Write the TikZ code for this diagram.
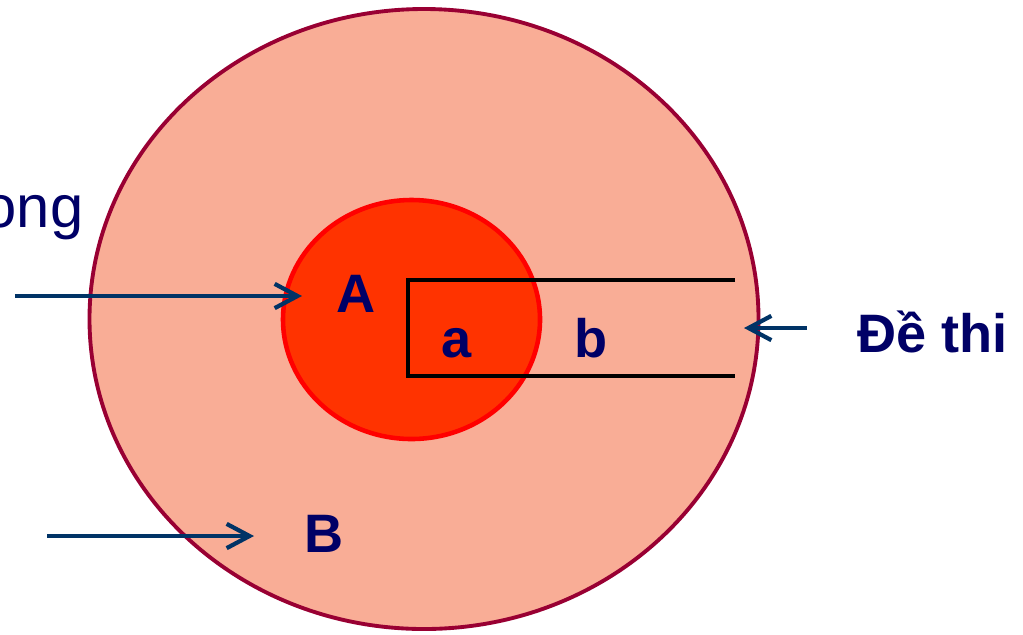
\documentclass[tikz,border=0pt]{standalone}
\usepackage{fontspec}
\setmainfont{Liberation Sans}
\usepackage{xcolor}
\usetikzlibrary{arrows.meta,positioning}
\definecolor{outerfill}{RGB}{249, 173, 150}
\definecolor{outerline}{RGB}{153, 0, 51}
\definecolor{innerfill}{RGB}{255, 51, 0}
\definecolor{innerline}{RGB}{255, 0, 0}
\definecolor{labelnavy}{RGB}{0, 0, 102}
\definecolor{arrowblue}{RGB}{0, 51, 102}

\begin{document}
\begin{tikzpicture}[
        setlabel/.style={font=\fontsize{15.4}{18}\selectfont\bfseries, text=labelnavy, inner sep=0pt, anchor=base},
        pointer/.style={-{Straight Barb[length=6.5pt, line width=1.2pt, angle'=56]}, line width=1.1pt, color=arrowblue}
    ]
        \useasboundingbox (0, 0) rectangle (10.23, 6.34);

        % Outer set B
        \draw[fill=outerfill, draw=outerline, line width=1.1pt] (4.24, 3.15) ellipse [x radius=3.345, y radius=3.10];

        % Inner set A
        \draw[fill=innerfill, draw=innerline, line width=1.3pt] (4.115, 3.145) ellipse [x radius=1.285, y radius=1.195];

        % Open bracket a / b
        \draw[line width=0.9pt] (7.35, 3.54) -- (4.08, 3.54) -- (4.08, 2.58) -- (7.35, 2.58);

        % Labels
        \node[setlabel] (lA) at (3.56, 3.22) {A};
        \node[setlabel] (la) at (4.57, 2.77) {a};
        \node[setlabel] (lb) at (5.91, 2.77) {b};
        \node[setlabel] (lB) at (3.24, 0.82) {B};
        \node[setlabel, anchor=base west] (dethi) at (8.57, 2.82) {Đề thi};
        \node[font=\fontsize{17}{20}\selectfont, text=labelnavy, inner sep=0pt, anchor=base east] (ong) at (0.84, 4.07) {ong};

        % Pointers
        \coordinate (fromA) at (0.15, 3.38);
        \coordinate (toA) at (3.02, 3.38);
        \coordinate (fromB) at (0.47, 0.98);
        \coordinate (toB) at (2.54, 0.98);
        \coordinate (fromD) at (8.07, 3.06);
        \coordinate (toD) at (7.44, 3.06);
        \draw[pointer] (fromA) -- (toA);
        \draw[pointer] (fromB) -- (toB);
        \draw[pointer] (fromD) -- (toD);
    \end{tikzpicture}
\end{document}
